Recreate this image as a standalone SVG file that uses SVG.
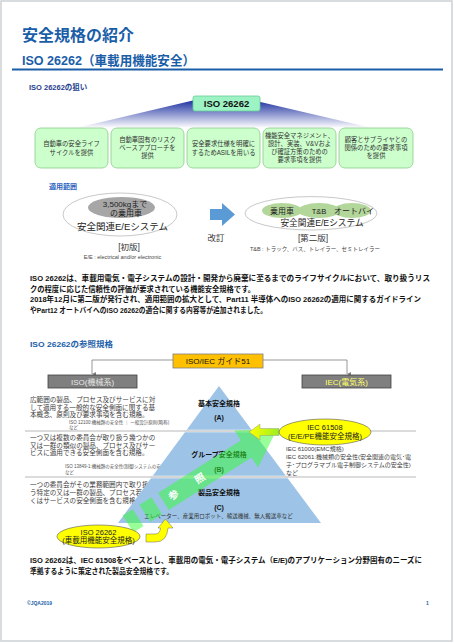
<svg xmlns="http://www.w3.org/2000/svg" width="454" height="643" viewBox="0 0 454 643">
<defs>
<style>
text{font-family:"Liberation Sans","Noto Sans CJK JP",sans-serif;}
.blue{fill:#1a5ea8;font-weight:bold;}
.bx{fill:#ccffcc;stroke:#8ccc8c;stroke-width:0.8;}
.bt{font-size:6.3px;fill:#333;text-anchor:middle;}
.para{font-size:7.5px;fill:#111;font-weight:bold;}
.lt{font-size:6.6px;fill:#404040;}
.note{font-size:4.5px;fill:#555;}
.rt{font-size:6px;fill:#404040;}
.pl{font-size:7px;font-weight:bold;fill:#111;text-anchor:middle;}
.sep{stroke:#a6a6a6;stroke-width:0.8;fill:none;}
.conn{stroke:#7f7f7f;stroke-width:0.8;fill:none;}
.yel{fill:#ffff00;stroke:#555;stroke-width:0.6;}
.yt{font-size:7.5px;fill:#222;text-anchor:middle;}
.mid{text-anchor:middle;}
</style>
<linearGradient id="fan" x1="0" y1="0" x2="0" y2="1">
<stop offset="0" stop-color="#1c2fa0"/>
<stop offset="1" stop-color="#ffffff"/>
</linearGradient>
<linearGradient id="yarr" x1="0" y1="0" x2="1" y2="0">
<stop offset="0" stop-color="#ffff00"/>
<stop offset="1" stop-color="#99ee22"/>
</linearGradient>
<marker id="ah" markerWidth="6" markerHeight="6" refX="3" refY="5" orient="auto-start-reverse" markerUnits="userSpaceOnUse">
<path d="M1,1 L3,5 L5,1 Z" fill="#7f7f7f"/>
</marker>
</defs>
<rect x="0" y="0" width="454" height="643" fill="#ffffff"/>
<rect x="1" y="1" width="451" height="640" fill="none" stroke="#cdd1d5" stroke-width="1.5"/>

<g id="header">
<text x="22" y="41" class="blue" font-size="16">安全規格の紹介</text>
<text x="22" y="65" class="blue" font-size="13" textLength="173" lengthAdjust="spacingAndGlyphs">ISO 26262（車載用機能安全）</text>
<line x1="12" y1="69.5" x2="443" y2="69.5" stroke="#1a5ea8" stroke-width="2"/>
<text x="29" y="90" font-size="7.5" font-weight="bold" fill="#1f3f8f">ISO 26262の狙い</text>
</g>

<g id="aims-fan">
<polygon points="195,100 252,100 372,128 76,128" fill="url(#fan)"/>
</g>
<g id="iso26262-top">
<rect x="193" y="96" width="67" height="15" rx="2" fill="#9ef3c4" stroke="#66cc99" stroke-width="0.8"/>
<text x="226.5" y="107" class="mid" font-size="9.5" font-weight="bold" fill="#111">ISO 26262</text>
</g>
<g id="aim1">
<rect x="35" y="128" width="73" height="40" rx="6" class="bx"/>
<text x="71.5" y="145.5" class="bt">自動車の安全ライフ</text>
<text x="71.5" y="154.5" class="bt">サイクルを提供</text>
</g>
<g id="aim2">
<rect x="111" y="128" width="73" height="40" rx="6" class="bx"/>
<text x="147.5" y="141.5" class="bt">自動車固有のリスク</text>
<text x="147.5" y="149.5" class="bt">ベースアプローチを</text>
<text x="147.5" y="157.5" class="bt">提供</text>
</g>
<g id="aim3">
<rect x="187" y="128" width="73" height="40" rx="6" class="bx"/>
<text x="223.5" y="145.5" class="bt">安全要求仕様を明確に</text>
<text x="223.5" y="154.5" class="bt">するためASILを用いる</text>
</g>
<g id="aim4">
<rect x="263" y="128" width="73" height="40" rx="6" class="bx"/>
<text x="299.5" y="137.5" class="bt">機能安全マネジメント、</text>
<text x="299.5" y="145.5" class="bt">設計、実装、V&amp;Vおよ</text>
<text x="299.5" y="153.5" class="bt">び確証方策のための</text>
<text x="299.5" y="161.5" class="bt">要求事項を提供</text>
</g>
<g id="aim5">
<rect x="339" y="128" width="74" height="40" rx="6" class="bx"/>
<text x="376" y="142" class="bt">顧客とサプライヤとの</text>
<text x="376" y="150" class="bt">関係のための要求事項</text>
<text x="376" y="158" class="bt">を提供</text>
</g>

<g id="scope">
<text x="49" y="188.5" font-size="7" font-weight="bold" fill="#2a62c0">適用範囲</text>
</g>
<g id="scope-v1">
<ellipse cx="120" cy="214.5" rx="57" ry="21.5" fill="none" stroke="#b0b0b0" stroke-width="0.7"/>
<ellipse cx="121.5" cy="207.5" rx="33.5" ry="10.5" fill="#a6a6a6"/>
<text x="125" y="206.5" class="mid" font-size="8" fill="#222">3,500kgまで</text>
<text x="126" y="215.5" class="mid" font-size="8" fill="#222">の乗用車</text>
<text x="122.5" y="230" class="mid" font-size="9.5" fill="#222">安全関連E/Eシステム</text>
<text x="129" y="250" class="mid" font-size="8.5" fill="#333">[初版]</text>
<text x="122.5" y="258.5" class="mid" font-size="5.5" fill="#444">E/E : electrical  and/or electronic</text>
</g>
<g id="revise">
<polygon points="210,209 222,209 222,203 235,214.5 222,226 222,220 210,220" fill="#5b9bd5"/>
<text x="216" y="241" class="mid" font-size="8.5" fill="#333">改訂</text>
</g>
<g id="scope-v2">
<ellipse cx="311" cy="213.3" rx="66" ry="16.7" fill="none" stroke="#b0b0b0" stroke-width="0.7"/>
<ellipse cx="282" cy="210.5" rx="20" ry="7.5" fill="#b3d69a"/>
<ellipse cx="319" cy="210.5" rx="21" ry="7.5" fill="#b3d69a"/>
<ellipse cx="352" cy="210.5" rx="19" ry="7.5" fill="#b3d69a"/>
<text x="282" y="213.5" class="mid" font-size="8" fill="#222">乗用車</text>
<text x="319" y="213.5" class="mid" font-size="7.5" fill="#222">T&amp;B</text>
<text x="354" y="213.5" class="mid" font-size="8" fill="#222">オートバイ</text>
<text x="322" y="226" class="mid" font-size="8.7" fill="#222">安全関連E/Eシステム</text>
<text x="313" y="241" class="mid" font-size="8.5" fill="#333">[第二版]</text>
<text x="315" y="250.5" class="mid" font-size="5.5" fill="#444">T&amp;B : トラック、バス、トレイラー、セミトレイラー</text>
</g>

<g id="para1">
<text x="30" y="280.5" class="para" textLength="400" lengthAdjust="spacingAndGlyphs">ISO 26262は、車載用電気・電子システムの設計・開発から廃棄に至るまでのライフサイクルにおいて、取り扱うリス</text>
<text x="30" y="291.5" class="para" textLength="225" lengthAdjust="spacingAndGlyphs">クの程度に応じた信頼性の評価が要求されている機能安全規格です。</text>
<text x="30" y="301.5" class="para" textLength="391" lengthAdjust="spacingAndGlyphs">2018年12月に第二版が発行され、適用範囲の拡大として、Part11 半導体へのISO 26262の適用に関するガイドライン</text>
<text x="30" y="312.5" class="para" textLength="237" lengthAdjust="spacingAndGlyphs">やPart12 オートバイへのISO 26262の適合に関する内容等が追加されました。</text>
</g>

<g id="refs-title">
<text x="30" y="347" class="blue" font-size="8" textLength="83" lengthAdjust="spacingAndGlyphs">ISO 26262の参照規格</text>
</g>

<g id="connectors">
<path d="M173,360 H92 V374" class="conn" marker-end="url(#ah)"/>
<path d="M263,360 H347 V374" class="conn" marker-end="url(#ah)"/>
<line x1="25" y1="431" x2="416" y2="431" class="sep"/>
<line x1="25" y1="477" x2="416" y2="477" class="sep"/>
</g>

<g id="guide51">
<rect x="173" y="354" width="90" height="14" fill="#ffc000" stroke="#7f7f7f" stroke-width="0.8"/>
<text x="218" y="364" class="mid" font-size="8" fill="#111">ISO/IEC ガイド51</text>
</g>
<g id="iso-mech">
<rect x="48" y="375" width="89" height="13" fill="#7f7f7f" stroke="#404040" stroke-width="0.8"/>
<text x="92.5" y="385" class="mid" font-size="8" fill="#e6e6e6">ISO(機械系)</text>
</g>
<g id="iec-elec">
<rect x="302" y="375" width="89" height="13" fill="#7f7f7f" stroke="#404040" stroke-width="0.8"/>
<text x="346.5" y="385" class="mid" font-size="8" fill="#ffff66">IEC(電気系)</text>
</g>

<g id="left-text">
<text x="30" y="402" class="lt">広範囲の製品、プロセス及びサービスに対</text>
<text x="30" y="409.5" class="lt">して適用する一般的な安全側面に関する基</text>
<text x="30" y="417" class="lt">本概念、原則及び要求事項を含む規格。</text>
<text x="69" y="423.5" class="note">ISO 12100:機械類の安全性 ｜ 一般設計原則(略称)</text>
<text x="69" y="428.5" class="note">など</text>
<text x="30" y="440" class="lt">一つ又は複数の委員会が取り扱う幾つかの</text>
<text x="30" y="448" class="lt">又は一群の類似の製品、プロセス及びサー</text>
<text x="30" y="455" class="lt">ビスに適用できる安全側面を含む規格。</text>
<text x="65" y="468" class="note">ISO 13849-1:機械類の安全性(制御システムの安全関連部)</text>
<text x="65" y="473.5" class="note">など</text>
<text x="30" y="487" class="lt">一つの委員会がその業務範囲内で取り扱</text>
<text x="30" y="495" class="lt">う特定の又は一群の製品、プロセス若し</text>
<text x="30" y="503" class="lt">くはサービスの安全側面を含む規格。</text>
</g>

<g id="pyramid">
<polygon points="219,386 321,523 118,523" fill="#9dc3e6"/>
<line x1="184" y1="431" x2="254" y2="431" stroke="#ffffff" stroke-width="2.5"/>
<line x1="150" y1="477" x2="288" y2="477" stroke="#ffffff" stroke-width="2.5"/>
<line x1="184" y1="431" x2="254" y2="431" stroke="#8a8a8a" stroke-width="0.7"/>
<line x1="150" y1="477" x2="288" y2="477" stroke="#8a8a8a" stroke-width="0.7"/>
<text x="219" y="405.5" class="pl">基本安全規格</text>
<text x="219" y="420" class="pl" font-size="8">(A)</text>
<text x="219" y="456.5" class="pl">グループ安全規格</text>
<text x="219" y="472" class="pl" font-size="8">(B)</text>
<text x="219" y="494.5" class="pl">製品安全規格</text>
<text x="219" y="510" class="pl" font-size="8">(C)</text>
<text x="218.5" y="518" class="mid" font-size="5.5" fill="#333">エレベーター、産業用ロボット、輸送機械、無人搬送車など</text>
</g>

<g id="ref-arrow" transform="translate(128,524) rotate(-32.4)">
<g fill="#33ff33" fill-opacity="0.5">
<rect x="0" y="-10" width="12" height="20"/>
<rect x="20" y="-10" width="14" height="20"/>
<polygon points="42,-10 140,-10 140,-22 176,0 140,22 140,10 42,10"/>
</g>
<text x="54" y="3.5" class="mid" font-size="10" font-weight="bold" fill="#ffffff">参</text>
<text x="85" y="3.5" class="mid" font-size="10" font-weight="bold" fill="#ffffff">照</text>
</g>

<g id="right-text">
<text x="286" y="451" class="rt">IEC 61000(EMC規格)</text>
<text x="286" y="458.5" class="rt">IEC 62061:機械類の安全性(安全関連の電気･電</text>
<text x="286" y="467" class="rt">子･プログラマブル電子制御システムの安全性)</text>
<text x="286" y="474.5" class="rt">など</text>
</g>

<g id="iec61508">
<polygon points="249,432 260,424 260,428.5 279,428.5 279,435.5 260,435.5 260,440" fill="url(#yarr)" stroke="#888" stroke-width="0.4"/>
<ellipse cx="325" cy="432" rx="46" ry="13" class="yel"/>
<text x="325" y="430" class="yt">IEC 61508</text>
<text x="325" y="438.5" class="yt">(E/E/PE機能安全規格)</text>
</g>

<g id="iso26262-ref">
<path d="M146,534 H155 Q160,534 160.5,528 H158 L165.5,519 L173,528 H168 Q167,542 155,542 H146 Z" fill="#ffff00" stroke="#666" stroke-width="0.5"/>
<ellipse cx="98.5" cy="536.5" rx="41.5" ry="11.5" class="yel"/>
<text x="98.5" y="534.5" class="yt">ISO 26262</text>
<text x="98.5" y="543" class="yt">(車載用機能安全規格)</text>
</g>

<g id="para2">
<text x="30" y="562.5" class="para" textLength="392" lengthAdjust="spacingAndGlyphs">ISO 26262は、IEC 61508をベースとし、車載用の電気・電子システム（E/E)のアプリケーション分野固有のニーズに</text>
<text x="30" y="573.5" class="para" textLength="143" lengthAdjust="spacingAndGlyphs">準拠するように策定された製品安全規格です。</text>
</g>

<g id="footer">
<text x="27" y="605" font-size="5" font-weight="bold" fill="#1a5ea8">©JQA2019</text>
<text x="426" y="605" font-size="5" font-weight="bold" fill="#1a5ea8">1</text>
</g>
</svg>
